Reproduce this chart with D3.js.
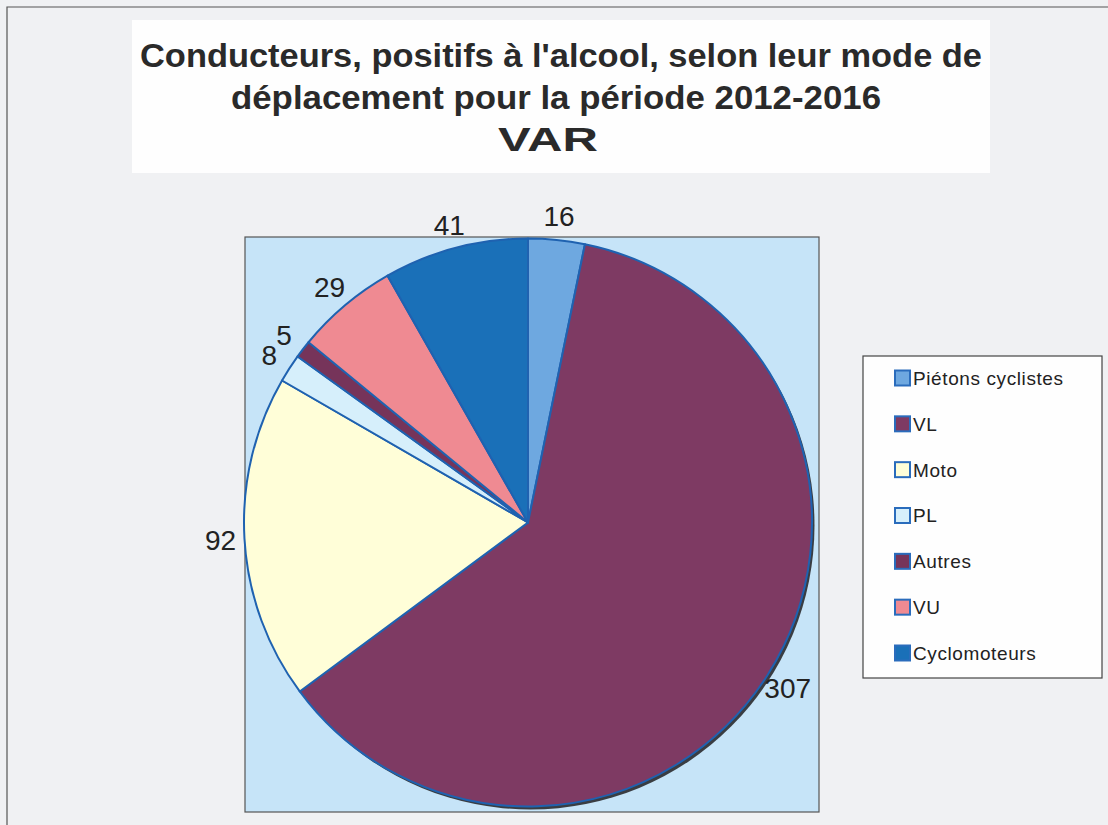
<!DOCTYPE html>
<html>
<head>
<meta charset="utf-8">
<script src="https://cdn.jsdelivr.net/npm/d3@7"></script>
<style>
  html, body { margin: 0; padding: 0; background: #f0f1f3; }
  svg { display: block; }
</style>
</head>
<body>
<svg id="chart" width="1108" height="825"></svg>
<script>
// ---- data ----
const categories = ["Piétons cyclistes", "VL", "Moto", "PL", "Autres", "VU", "Cyclomoteurs"];
const values = [16, 307, 92, 8, 5, 29, 41];
const colors = ["#6ea8e0", "#7e3a63", "#fffed8", "#d6effb", "#76345a", "#ef8a92", "#1a70b8"];
const titleLines = ["Conducteurs, positifs à l'alcool, selon leur mode de",
                    "déplacement pour la période 2012-2016", "VAR"];

const svg = d3.select("#chart");
const W = 1108, H = 825;

// page background + border
svg.append("rect").attr("x", 0).attr("y", 0).attr("width", W).attr("height", H).attr("fill", "#f0f1f3");
svg.append("path").attr("d", `M7,${H} V7 H${W}`).attr("fill", "none").attr("stroke", "#555").attr("stroke-width", 1.2);

// title box
svg.append("rect").attr("x", 132).attr("y", 20).attr("width", 858).attr("height", 153).attr("fill", "#fefefe");
const titleY = [67, 109, 151];
const titleX = [561, 556, 548];
const titleW = [842, 650, 100];
titleLines.forEach((t, i) => {
  svg.append("text")
    .attr("x", titleX[i]).attr("y", titleY[i])
    .attr("text-anchor", "middle")
    .attr("font-family", "Liberation Sans, Arial, sans-serif")
    .attr("font-weight", "bold")
    .attr("font-size", 33)
    .attr("fill", "#2a2a2a")
    .attr("textLength", titleW[i])
    .attr("lengthAdjust", "spacingAndGlyphs")
    .text(t);
});

// plot area
svg.append("rect").attr("x", 245).attr("y", 237).attr("width", 574).attr("height", 575)
  .attr("fill", "#c6e4f8").attr("stroke", "#555").attr("stroke-width", 1.2);

// pie
const cx = 528, cy = 522.5, R = 284;
const pie = d3.pie().sort(null).value(d => d.v);
const arcs = pie(values.map((v, i) => ({ v, name: categories[i], color: colors[i] })));
const arc = d3.arc().innerRadius(0).outerRadius(R);

const g = svg.append("g").attr("transform", `translate(${cx},${cy})`);
// 3D-ish shadow edge
g.append("circle").attr("cx", 2.5).attr("cy", 3).attr("r", R).attr("fill", "#3a3d42");

g.selectAll("path.slice").data(arcs).enter().append("path")
  .attr("class", "slice")
  .attr("d", arc)
  .attr("fill", d => d.data.color)
  .attr("stroke", "#1f62b0")
  .attr("stroke-width", 2)
  .attr("stroke-linejoin", "round");

// labels
const labelArc = d3.arc().innerRadius(R + 24).outerRadius(R + 24);
g.selectAll("text.lbl").data(arcs).enter().append("text")
  .attr("class", "lbl")
  .attr("transform", d => {
    const [x, y] = labelArc.centroid(d);
    return `translate(${x},${y})`;
  })
  .attr("text-anchor", "middle")
  .attr("dy", "0.36em")
  .attr("font-family", "Liberation Sans, Arial, sans-serif")
  .attr("font-size", 28)
  .attr("fill", "#222")
  .text(d => d.data.v);

// legend
const lg = svg.append("g");
lg.append("rect").attr("x", 863).attr("y", 356).attr("width", 239).attr("height", 322)
  .attr("fill", "#fefefe").attr("stroke", "#444").attr("stroke-width", 1.2);
const ly = d3.scalePoint().domain(categories).range([378, 653]);
const items = lg.selectAll("g.item").data(categories).enter().append("g").attr("class", "item")
  .attr("transform", d => `translate(0,${ly(d)})`);
items.append("rect").attr("x", 895).attr("y", -7.5).attr("width", 15).attr("height", 15)
  .attr("fill", (d, i) => colors[i]).attr("stroke", "#2a6cbc").attr("stroke-width", 2);
items.append("text").attr("x", 913).attr("y", 0).attr("dy", "0.36em")
  .attr("font-family", "Liberation Sans, Arial, sans-serif")
  .attr("font-size", 19).attr("letter-spacing", 0.6)
  .attr("fill", "#222")
  .text(d => d);
</script>
</body>
</html>
